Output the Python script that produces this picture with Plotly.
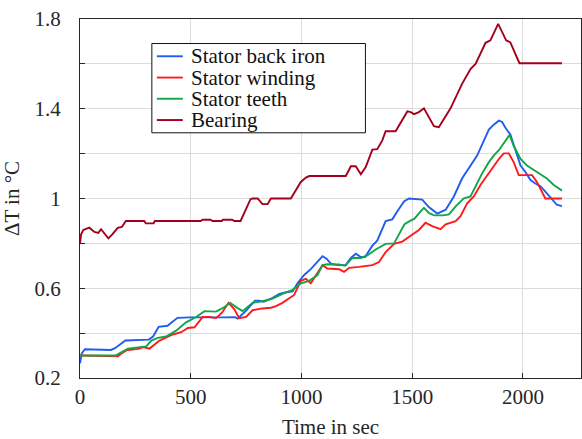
import plotly.graph_objects as go

# Temperature rise (delta T, degC) over time (s) for each motor component
stator_back_iron = [
    (0, 0.265), (8, 0.31), (22, 0.328), (60, 0.326), (140, 0.325), (158, 0.333),
    (205, 0.367), (310, 0.371), (330, 0.385), (355, 0.428), (395, 0.433),
    (440, 0.468), (500, 0.470), (650, 0.470), (700, 0.471), (712, 0.465),
    (748, 0.498), (772, 0.525), (790, 0.545), (810, 0.545), (830, 0.540),
    (870, 0.557), (900, 0.575), (937, 0.583), (960, 0.586), (982, 0.622),
    (1012, 0.659), (1042, 0.685), (1065, 0.710), (1095, 0.743), (1113, 0.732),
    (1133, 0.710), (1162, 0.703), (1200, 0.703), (1223, 0.735), (1245, 0.754),
    (1268, 0.739), (1287, 0.739), (1320, 0.790), (1342, 0.812), (1380, 0.899),
    (1410, 0.907), (1433, 0.943), (1463, 0.987), (1485, 1.0), (1520, 0.996),
    (1545, 0.995), (1575, 0.962), (1613, 0.933), (1651, 0.950), (1688, 1.009),
    (1725, 1.089), (1755, 1.132), (1793, 1.191), (1823, 1.257), (1846, 1.307),
    (1868, 1.329), (1891, 1.347), (1906, 1.341), (1921, 1.315), (1943, 1.285),
    (1966, 1.213), (1989, 1.147), (2011, 1.118), (2034, 1.082), (2056, 1.067),
    (2079, 1.055), (2101, 1.031), (2131, 0.994), (2153, 0.972), (2176, 0.966),
]

stator_winding = [
    (0, 0.300), (111, 0.297), (171, 0.297), (187, 0.309), (209, 0.323),
    (269, 0.331), (284, 0.338), (314, 0.331), (359, 0.367), (419, 0.394),
    (457, 0.404), (487, 0.423), (517, 0.426), (554, 0.472), (584, 0.472),
    (614, 0.467), (641, 0.491), (671, 0.535), (697, 0.506), (719, 0.467),
    (750, 0.472), (779, 0.502), (824, 0.510), (862, 0.513), (885, 0.520),
    (914, 0.535), (945, 0.557), (967, 0.570), (997, 0.633), (1020, 0.642),
    (1042, 0.622), (1065, 0.659), (1095, 0.703), (1117, 0.688), (1170, 0.685),
    (1192, 0.673), (1215, 0.691), (1260, 0.695), (1320, 0.703), (1350, 0.717),
    (1380, 0.761), (1418, 0.798), (1455, 0.808), (1493, 0.834), (1530, 0.860),
    (1560, 0.892), (1590, 0.877), (1628, 0.863), (1651, 0.885), (1696, 0.899),
    (1718, 0.921), (1748, 0.979), (1778, 1.009), (1808, 1.060), (1838, 1.104),
    (1868, 1.147), (1891, 1.176), (1913, 1.201), (1936, 1.201), (1958, 1.162),
    (1981, 1.104), (2041, 1.104), (2063, 1.074), (2101, 1.0), (2176, 1.0),
]

stator_teeth = [
    (0, 0.300), (160, 0.300), (216, 0.331), (299, 0.341), (322, 0.367),
    (351, 0.379), (389, 0.385), (434, 0.411), (479, 0.448), (524, 0.472),
    (562, 0.498), (614, 0.496), (652, 0.516), (678, 0.535), (705, 0.516),
    (734, 0.498), (779, 0.535), (824, 0.542), (870, 0.554), (914, 0.575),
    (960, 0.593), (997, 0.622), (1035, 0.633), (1072, 0.659), (1095, 0.703),
    (1117, 0.707), (1170, 0.706), (1197, 0.700), (1230, 0.735), (1268, 0.735),
    (1297, 0.746), (1335, 0.773), (1380, 0.798), (1418, 0.800), (1440, 0.840),
    (1465, 0.885), (1490, 0.900), (1510, 0.910), (1538, 0.943), (1553, 0.958),
    (1575, 0.936), (1598, 0.925), (1640, 0.925), (1666, 0.929), (1696, 0.965),
    (1733, 1.001), (1763, 1.009), (1793, 1.067), (1815, 1.111), (1846, 1.162),
    (1868, 1.191), (1891, 1.215), (1921, 1.256), (1939, 1.283), (1958, 1.235),
    (1989, 1.176), (2018, 1.147), (2056, 1.122), (2086, 1.103), (2108, 1.089),
    (2139, 1.060), (2176, 1.035),
]

bearing = [
    (0, 0.80), (5, 0.84), (15, 0.86), (27, 0.866), (42, 0.870), (65, 0.851),
    (83, 0.847), (95, 0.863), (110, 0.845), (128, 0.822), (147, 0.841),
    (170, 0.869), (189, 0.873), (207, 0.900), (290, 0.900), (297, 0.889),
    (332, 0.889), (338, 0.900), (545, 0.900), (553, 0.905), (590, 0.905),
    (598, 0.900), (640, 0.900), (645, 0.905), (688, 0.905), (696, 0.900),
    (725, 0.900), (770, 0.997), (779, 1.0), (802, 1.0), (824, 0.975),
    (847, 0.975), (862, 1.0), (952, 1.0), (997, 1.074), (1020, 1.093),
    (1035, 1.10), (1200, 1.10), (1223, 1.144), (1245, 1.144), (1268, 1.108),
    (1290, 1.14), (1320, 1.218), (1342, 1.22), (1365, 1.259), (1380, 1.30),
    (1425, 1.30), (1455, 1.351), (1478, 1.388), (1493, 1.385), (1508, 1.376),
    (1530, 1.385), (1553, 1.402), (1598, 1.322), (1620, 1.318), (1673, 1.402),
    (1725, 1.511), (1763, 1.577), (1786, 1.60), (1831, 1.694), (1853, 1.705),
    (1888, 1.778), (1924, 1.705), (1943, 1.696), (1984, 1.603), (2176, 1.603),
]

series_names = ["Stator back iron", "Stator winding", "Stator teeth", "Bearing"]
series_data = [stator_back_iron, stator_winding, stator_teeth, bearing]
series_colors = ["#1f5cf2", "#ff1a1a", "#10a64a", "#a3001e"]

y_label_vals = [0.2, 0.6, 1.0, 1.4, 1.8]
y_label_text = ["0.2", "0.6", "1", "1.4", "1.8"]
y_unlabeled_vals = [0.4, 0.8, 1.2, 1.6]
x_tick_vals = [0, 500, 1000, 1500, 2000]

FONT = "Times New Roman"
TEXT_COLOR = "#262626"
FONT_SIZE = 21

W, H = 582, 439
M_L, M_R, M_T, M_B = 80, 0, 19, 54
PLOT_W = W - M_L - M_R
PLOT_H = H - M_T - M_B


def px_to_paper(px, py):
    """Convert page pixels to paper coordinates of the plotting area."""
    return (px - M_L) / PLOT_W, 1 - (py - M_T) / PLOT_H


def serif(size=FONT_SIZE, color=TEXT_COLOR):
    return dict(family=FONT, size=size, color=color)


fig = go.Figure()
for name, data, color in zip(series_names, series_data, series_colors):
    t, y = zip(*data)
    fig.add_trace(go.Scatter(x=list(t), y=list(y), mode="lines", name=name,
                             line=dict(color=color, width=1.9),
                             showlegend=False))

axis_common = dict(
    showgrid=True, gridcolor="#dcdcdc", gridwidth=1,
    showline=True, linecolor=TEXT_COLOR, linewidth=1.3, mirror=True,
    ticks="inside", ticklen=5, tickcolor=TEXT_COLOR, tickwidth=1,
    zeroline=False, tickfont=serif(),
)

fig.update_xaxes(range=[0, 2262], tickvals=x_tick_vals,
                 title=dict(text="Time in sec", font=serif()),
                 **axis_common)
# Labelled ticks every 0.4, with unlabelled ticks and grid lines in between
fig.update_yaxes(range=[0.2, 1.8], tickvals=y_label_vals, ticktext=y_label_text,
                 minor=dict(tickvals=y_unlabeled_vals, ticks="inside", ticklen=5,
                            tickcolor=TEXT_COLOR, showgrid=True,
                            gridcolor="#dcdcdc", gridwidth=1),
                 title=dict(text="ΔT in °C", font=serif()),
                 ticklabelstandoff=14, **axis_common)

# Boxed legend in the upper-left part of the axes, with tight rows
box_x0, box_y1 = px_to_paper(152, 44)
box_x1, box_y0 = px_to_paper(366, 135)
fig.add_shape(type="rect", xref="paper", yref="paper",
              x0=box_x0, x1=box_x1, y0=box_y0, y1=box_y1,
              line=dict(color="#111111", width=1), fillcolor="white", layer="above")
row_y_px = [57, 78.7, 100.3, 122]
for name, color, ry in zip(series_names, series_colors, row_y_px):
    lx0, ly = px_to_paper(157, ry)
    lx1, _ = px_to_paper(183, ry)
    tx, _ = px_to_paper(189, ry)
    fig.add_shape(type="line", xref="paper", yref="paper",
                  x0=lx0, x1=lx1, y0=ly, y1=ly,
                  line=dict(color=color, width=1.9), layer="above")
    fig.add_annotation(xref="paper", yref="paper", x=tx, y=ly,
                       xanchor="left", yanchor="middle", showarrow=False,
                       text=name, font=serif(size=21, color="#111111"))

fig.update_layout(
    width=W, height=H,
    margin=dict(l=M_L, r=M_R, t=M_T, b=M_B),
    plot_bgcolor="white",
    font=serif(),
    showlegend=False,
)

fig.write_html("out.html")
